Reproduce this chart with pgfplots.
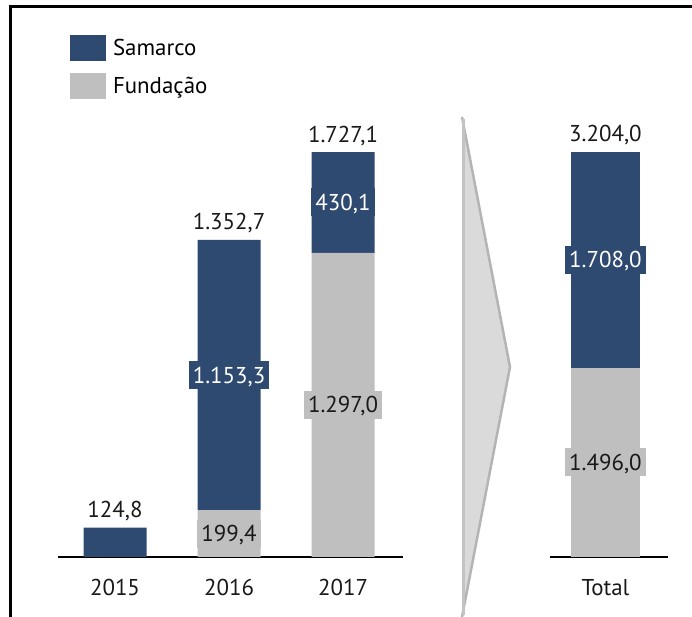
\documentclass[border=0pt]{standalone}
\usepackage{pgfplots}
\pgfplotsset{compat=1.18}
\usepackage{fontspec}
\setmainfont{PT Sans}
\definecolor{samarco}{HTML}{2F4A70}
\definecolor{fund}{HTML}{BFBFBF}
\definecolor{arrowfill}{HTML}{DADADA}
\definecolor{arrowedge}{HTML}{B4B4B4}
\newcommand{\lbl}{\fontsize{23}{27}\selectfont}
\tikzset{
  tot/.style={anchor=base, yshift=10bp, font=\lbl, text=black!90, inner sep=0pt},
  bluebox/.style={fill=samarco, text=white, font=\lbl, inner xsep=4bp, inner ysep=6bp, text height=16bp, text depth=0bp},
  graybox/.style={fill=fund, text=black!90, font=\lbl, inner xsep=4bp, inner ysep=6bp, text height=16bp, text depth=0bp},
}
\pgfplotsset{
  common/.style={
    scale only axis, height=457bp, ymin=0, clip=false,
    ybar stacked, enlargelimits=false,
    axis x line*=bottom, hide y axis,
    axis line style={-, line width=1.3bp, black},
    major tick length=0pt, xtick=data,
    xticklabel style={anchor=base, yshift=-39bp, font=\lbl, text=black!90},
  },
}
\begin{document}
\begin{tikzpicture}[x=1bp,y=1bp]
\path[use as bounding box] (0,0) rectangle (692,617);
% frame
\draw[line width=3bp] (10,0) -- (10,610) -- (692,610);
% chevron
\fill[arrowfill] (462,500) -- (510,250) -- (462,0) -- cycle;
\draw[arrowedge, line width=2.5bp] (462,500) -- (510,250) -- (462,0);
\draw[arrowedge!80, line width=3bp] (463,498) -- (463,2);

\begin{axis}[common,
  at={(58bp,60bp)}, anchor=south west,
  width=345bp, xmin=-0.5, xmax=2.526, ymax=1949,
  bar width=63bp,
  xticklabels={2015,2016,2017},
  legend style={draw=none, fill=none, at={(rel axis cs:0,1)}, anchor=north west,
    xshift=12bp, yshift=65bp, inner sep=0pt, outer sep=0pt,
    font=\lbl, row sep=12bp, column sep=7bp, nodes={inner sep=0pt}},
  legend cell align=left, reverse legend,
  legend image code/.code={\fill[#1] (0bp,-13bp) rectangle (36bp,13bp);},
]
\addplot[fill=fund, draw=none] coordinates {(0,0) (1,199.4) (2,1297.0)};
\addplot[fill=samarco, draw=none] coordinates {(0,124.8) (1,1153.3) (2,430.1)};
\legend{Fundação, Samarco}
\node[tot] at (axis cs:0,124.8) {124,8};
\node[tot] at (axis cs:1,1352.7) {1.352,7};
\node[tot] at (axis cs:2,1727.1) {1.727,1};
\coordinate (a1) at (axis cs:1,99.7);
\coordinate (a2) at (axis cs:1,776.05);
\coordinate (a3) at (axis cs:2,648.5);
\coordinate (a4) at (axis cs:2,1512.05);
\end{axis}
\node[graybox] at (a1) {199,4};
\node[bluebox] at (a2) {1.153,3};
\node[graybox] at (a3) {1.297,0};
\node[bluebox] at (a4) {430,1};

\begin{axis}[common,
  at={(550bp,60bp)}, anchor=south west,
  width=118bp, xmin=-0.47, xmax=0.53, ymax=3615,
  bar width=69bp,
  xticklabels={Total},
]
\addplot[fill=fund, draw=none] coordinates {(0,1496.0)};
\addplot[fill=samarco, draw=none] coordinates {(0,1708.0)};
\node[tot] at (axis cs:0,3204.0) {3.204,0};
\coordinate (b1) at (axis cs:0,748.0);
\coordinate (b2) at (axis cs:0,2350.0);
\end{axis}
\node[graybox] at (b1) {1.496,0};
\node[bluebox] at (b2) {1.708,0};
\end{tikzpicture}
\end{document}
